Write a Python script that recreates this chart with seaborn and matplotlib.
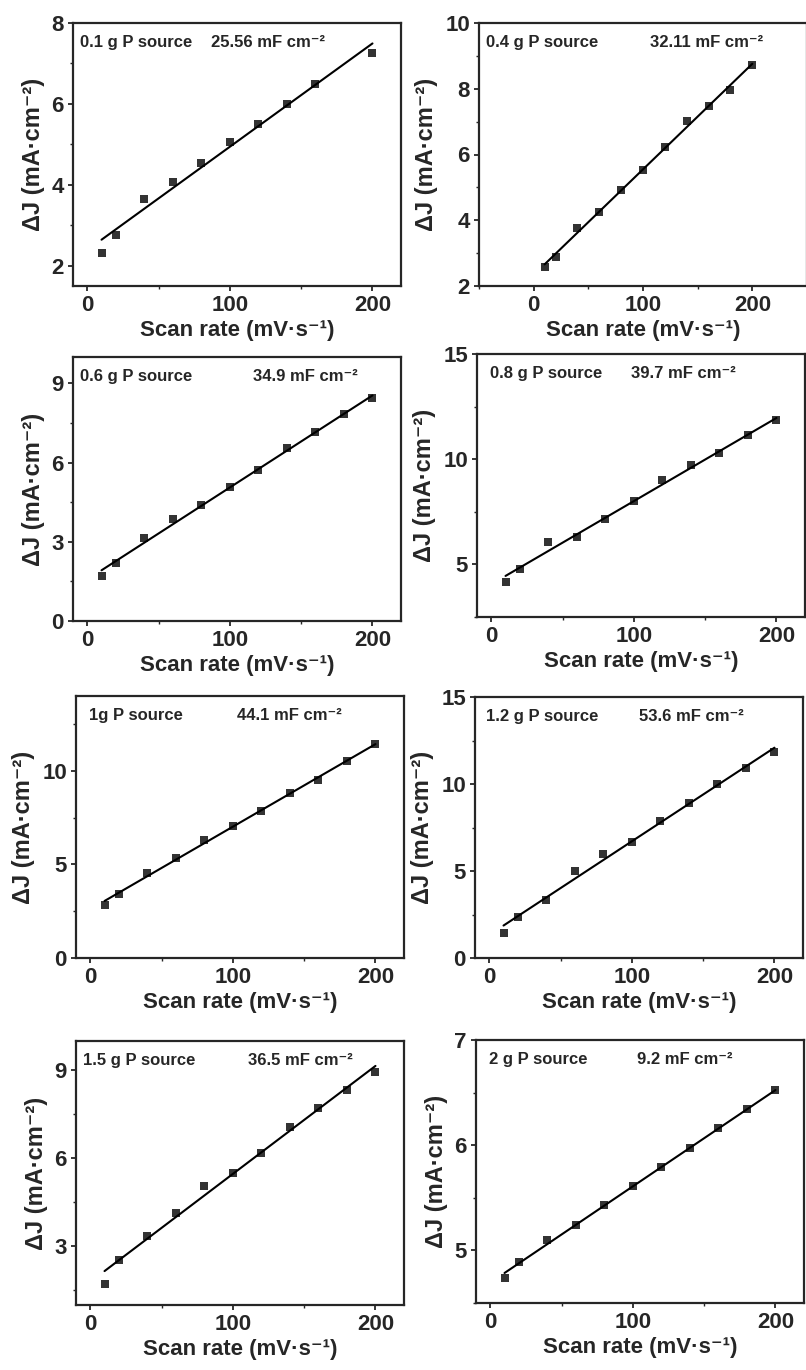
import numpy as np
import pandas as pd
import matplotlib
matplotlib.use("Agg")
import matplotlib.pyplot as plt
import seaborn as sns
from matplotlib.ticker import MultipleLocator

# scan rates (mV/s)
scan_short = [10, 20, 40, 60, 80, 100, 120, 140, 160, 200]
scan_full = [10, 20, 40, 60, 80, 100, 120, 140, 160, 180, 200]

# delta J (mA/cm2)
dj_01 = [2.31, 2.75, 3.66, 4.06, 4.53, 5.05, 5.51, 6.01, 6.49, 7.26]
dj_04 = [2.59, 2.88, 3.75, 4.25, 4.92, 5.53, 6.24, 7.02, 7.48, 7.96, 8.73]
dj_06 = [1.70, 2.18, 3.13, 3.86, 4.38, 5.06, 5.71, 6.54, 7.17, 7.83, 8.43]
dj_08 = [4.18, 4.79, 6.06, 6.28, 7.17, 8.03, 8.99, 9.72, 10.29, 11.13, 11.85]
dj_10 = [2.81, 3.43, 4.56, 5.33, 6.29, 7.05, 7.87, 8.81, 9.50, 10.52, 11.46]
dj_12 = [1.43, 2.35, 3.35, 5.01, 5.97, 6.69, 7.90, 8.89, 9.98, 10.90, 11.85]
dj_15 = [1.71, 2.55, 3.36, 4.12, 5.05, 5.51, 6.17, 7.07, 7.72, 8.33, 8.94]
dj_20 = [4.74, 4.89, 5.10, 5.24, 5.43, 5.61, 5.79, 5.97, 6.16, 6.34, 6.52]

sources = ["0.1 g P source", "0.4 g P source", "0.6 g P source", "0.8 g P source",
           "1g P source", "1.2 g P source", "1.5 g P source", "2 g P source"]
cdl_labels = ["25.56", "32.11", "34.9", "39.7", "44.1", "53.6", "36.5", "9.2"]

sns.set_style("ticks")
plt.rcParams["font.family"] = ["Liberation Sans", "DejaVu Sans"]
plt.rcParams["font.weight"] = "bold"
plt.rcParams["axes.labelweight"] = "bold"

# panel layout (pixels: left, top, bottom) + axis setup
panels = [
    (scan_short, dj_01, (-10, 220), (1.5, 8), 2, (73, 23, 286), (0.02, 0.42)),
    (scan_full, dj_04, (-50, 250), (2, 10), 2, (479, 23, 286), (0.02, 0.52)),
    (scan_full, dj_06, (-10, 220), (0, 10), 3, (73, 357, 621), (0.02, 0.55)),
    (scan_full, dj_08, (-10, 220), (2.5, 15), 5, (477, 354, 617), (0.04, 0.47)),
    (scan_full, dj_10, (-10, 220), (0, 14), 5, (76, 696, 958), (0.04, 0.49)),
    (scan_full, dj_12, (-10, 220), (0, 15), 5, (475, 697, 958), (0.034, 0.50)),
    (scan_full, dj_15, (-10, 220), (1, 10), 3, (76, 1041, 1305), (0.02, 0.525)),
    (scan_full, dj_20, (-10, 220), (4.5, 7), 1, (476, 1040, 1303), (0.04, 0.49)),
]

W, H = 806, 1370
fig = plt.figure(figsize=(W / 100, H / 100), dpi=100)

for i, (xs, ys, xlim, ylim, ystep, (left, top, bottom), (tx1, tx2)) in enumerate(panels):
    ax = fig.add_axes([left / W, 1 - bottom / H, 328 / W, (bottom - top) / H])
    df = pd.DataFrame({"scan": xs, "dj": ys})
    sns.regplot(data=df, x="scan", y="dj", ax=ax, ci=None, color="black",
                marker="s", scatter_kws={"s": 32, "linewidths": 0},
                line_kws={"lw": 1.5})
    ax.set_xlim(*xlim)
    ax.set_ylim(*ylim)
    ax.xaxis.set_major_locator(MultipleLocator(100))
    ax.xaxis.set_minor_locator(MultipleLocator(50))
    ax.yaxis.set_major_locator(MultipleLocator(ystep))
    ax.yaxis.set_minor_locator(MultipleLocator(ystep / 2))
    for s in ax.spines.values():
        s.set_linewidth(1.6)
        s.set_visible(True)
    ax.tick_params(which="major", direction="out", length=3.5, width=1.3,
                   labelsize=16, pad=3)
    ax.tick_params(which="minor", direction="out", length=2, width=1.0)
    ax.set_xlabel("Scan rate (mV·s⁻¹)", fontsize=16, labelpad=3)
    ax.set_ylabel("ΔJ (mA·cm⁻²)", fontsize=17, labelpad=5)
    ty = 0.925
    ax.text(tx1, ty, sources[i], transform=ax.transAxes, fontsize=12,
            fontweight="bold", va="center", ha="left")
    ax.text(tx2, ty, cdl_labels[i] + " mF cm⁻²", transform=ax.transAxes,
            fontsize=12, fontweight="bold", va="center", ha="left")

fig.savefig("out.png", dpi=100)
